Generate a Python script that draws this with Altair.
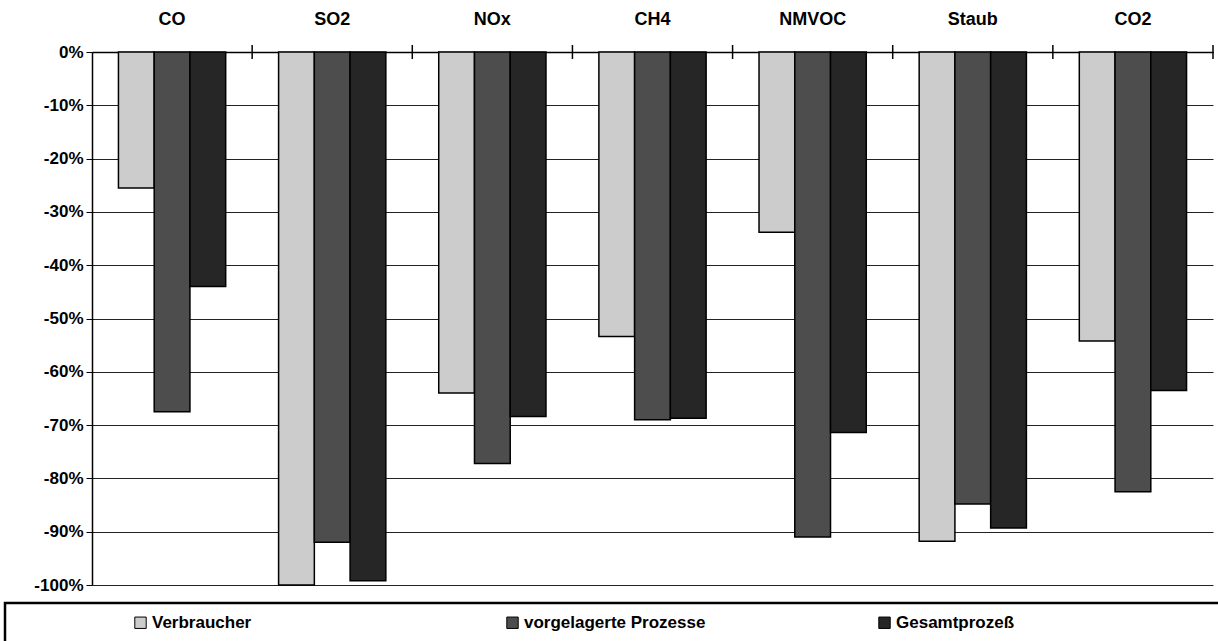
import altair as alt
import pandas as pd

# Emission reductions per pollutant (percent change)
pollutants = ["CO", "SO2", "NOx", "CH4", "NMVOC", "Staub", "CO2"]
series = ["Verbraucher", "vorgelagerte Prozesse", "Gesamtprozeß"]
verbraucher = [-25.5, -100.0, -64.0, -53.4, -33.8, -91.8, -54.2]
vorgelagerte = [-67.5, -92.0, -77.2, -69.0, -91.0, -84.8, -82.5]
gesamt = [-44.0, -99.2, -68.4, -68.7, -71.4, -89.3, -63.5]
series_colors = ["#cccccc", "#4d4d4d", "#262626"]

rows = []
for vals, name in zip([verbraucher, vorgelagerte, gesamt], series):
    for p, v in zip(pollutants, vals):
        rows.append({"Schadstoff": p, "Reihe": name, "Wert": v})
df = pd.DataFrame(rows)

FONT = "Liberation Sans"
FS = 17

x_enc = alt.X(
    "Schadstoff:N",
    sort=pollutants,
    scale=alt.Scale(paddingInner=0, paddingOuter=0),
    axis=alt.Axis(
        orient="top", title=None, ticks=False, labelPadding=24, labelAngle=0,
        labelFont=FONT, labelFontSize=18, labelFontWeight="bold", labelColor="black",
        domainColor="black", domainWidth=1.5, grid=False,
    ),
)

bars = alt.Chart(df).mark_bar(stroke="black", strokeWidth=1.5).encode(
    x=x_enc,
    xOffset=alt.XOffset("Reihe:N", sort=series,
                        scale=alt.Scale(paddingOuter=0.74, paddingInner=0)),
    y=alt.Y(
        "Wert:Q",
        scale=alt.Scale(domain=[-100, 0], nice=False),
        axis=alt.Axis(
            title=None, values=list(range(-100, 1, 10)),
            labelExpr="datum.value + '%'",
            labelFont=FONT, labelFontSize=FS, labelFontWeight="bold", labelColor="black",
            tickColor="black", tickSize=6, domainColor="black", domainWidth=1.5,
            grid=True, gridColor="#222222", gridWidth=1, labelPadding=3,
        ),
    ),
    color=alt.Color(
        "Reihe:N", sort=series,
        scale=alt.Scale(domain=series, range=series_colors),
        legend=alt.Legend(
            title=None, orient="none", direction="horizontal", columns=3,
            legendX=40, legendY=562, gridAlign="all", columnPadding=170,
            symbolType="square", symbolSize=130, symbolStrokeColor="black",
            symbolStrokeWidth=1, symbolOffset=0, labelOffset=3, labelLimit=400,
            labelFont=FONT, labelFontSize=FS, labelFontWeight="bold", labelColor="black",
        ),
    ),
)

# Tick marks at the boundaries between pollutant groups on the top axis
group_ticks = alt.Chart(pd.DataFrame({"Schadstoff": pollutants})).mark_rule(
    color="black", strokeWidth=1.5
).encode(
    x=alt.X("Schadstoff:N", sort=pollutants, bandPosition=1),
    y=alt.value(-7),
    y2=alt.value(7),
)

# Frame around the legend strip
legend_frame = alt.Chart(pd.DataFrame({"k": [0]})).mark_rect(
    fillOpacity=0, stroke="black", strokeWidth=2.5
).encode(
    x=alt.value(-87), x2=alt.value(1140), y=alt.value(551), y2=alt.value(620),
)

chart = alt.layer(bars, group_ticks, legend_frame).properties(
    width=1121,
    height=533,
    autosize=alt.AutoSizeParams(type="none"),
    padding={"left": 92, "top": 52, "right": 5, "bottom": 56},
    background="white",
).configure_view(stroke=None)

chart.save("out.html", embed_options={"renderer": "svg", "actions": False})
